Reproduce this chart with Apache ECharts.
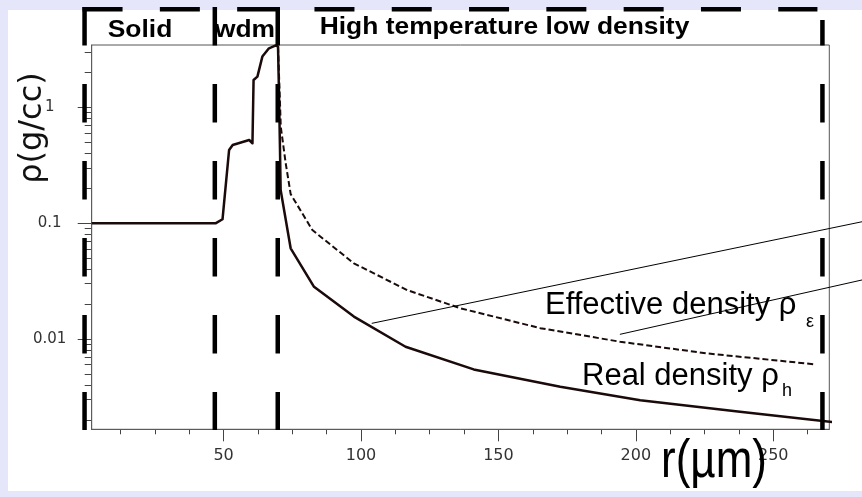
<!DOCTYPE html>
<html><head><meta charset="utf-8">
<script src="https://cdn.jsdelivr.net/npm/echarts@6/dist/echarts.min.js"></script>
<style>html,body{margin:0;padding:0;background:#e6e6fa}#c{width:862px;height:497px}</style>
</head><body><div id="c"></div>
<script>
// ---- data (r in µm, density in g/cc) ----
const solidR   = [2, 47.2, 49.6, 52.0, 53.3, 59.3, 60.5, 60.9, 62.3, 64.1, 66.5, 69.0, 69.8, 70.2, 70.5, 70.75, 74.4, 82.9, 97.4, 116.2, 141.0, 172.5, 201.6, 237.9, 275.4];
const solidRho = [0.1, 0.1, 0.108, 0.428, 0.472, 0.522, 0.489, 1.72, 1.84, 2.74, 3.23, 3.42, 3.34, 1.16, 0.457, 0.193, 0.0606, 0.0282, 0.0156, 0.00857, 0.00546, 0.00386, 0.00296, 0.00235, 0.00187];
const effR     = [69.8, 70.6, 70.8, 72.6, 74.4, 82.3, 97.4, 116.8, 136.2, 165.2, 194.3, 225.8, 265.1];
const effRho   = [3.34, 0.947, 0.68, 0.328, 0.178, 0.0871, 0.045, 0.0264, 0.0184, 0.0124, 0.00946, 0.00751, 0.00604];

const xMajorTicks = [50, 100, 150, 200, 250];
const xMinorTicks = [12.5, 25, 37.5, 62.5, 75, 87.5, 112.5, 125, 137.5, 162.5, 175, 187.5, 212.5, 225, 237.5, 262.5];
const yMajorTicks = [0.01, 0.1, 1];
const yMinorTicks = [0.002, 0.003, 0.004, 0.005, 0.006, 0.007, 0.008, 0.009,
                     0.02, 0.03, 0.04, 0.05, 0.06, 0.07, 0.08, 0.09,
                     0.2, 0.3, 0.4, 0.5, 0.6, 0.7, 0.8, 0.9, 2, 3];

const regionBounds = [-0.6, 46.8, 69.7, 267.9];   // r of the dashed region boundaries
const regionNames  = ['Solid', 'wdm', 'High temperature low density'];
const effLabel  = ['Effective density ρ', 'ε'];
const realLabel = ['Real density ρ', 'h'];
// leader lines: [start r, start rho, end r, end rho]
const leader1 = [103.9, 0.01364, 282.3, 0.1028];
const leader2 = [194.2, 0.01096, 282.3, 0.0323];

const X_MIN = 2, X_MAX = 270.4, Y_MIN = 0.00166, Y_MAX = 3.45;
const axisColor = '#444';
const chart = echarts.init(document.getElementById('c'), null, {renderer: 'canvas'});

const option = {
  backgroundColor: '#e6e6fa',
  animation: false,
  grid: {left: 91.7, right: 32.7, top: 45, bottom: 67.7, show: true, backgroundColor: '#fff', borderColor: '#555', borderWidth: 1, z: 1},
  xAxis: [
    {type: 'value', min: X_MIN, max: X_MAX, splitLine: {show: false},
     axisLine: {show: true, lineStyle: {color: axisColor, width: 1}},
     axisTick: {show: true, customValues: xMajorTicks, length: 12, lineStyle: {color: axisColor}},
     axisLabel: {customValues: xMajorTicks, margin: 19, fontFamily: 'DejaVu Sans', fontSize: 16, color: '#333'}},
    {type: 'value', min: X_MIN, max: X_MAX, position: 'bottom', splitLine: {show: false},
     axisLine: {show: false},
     axisTick: {show: true, customValues: xMinorTicks, length: 5, lineStyle: {color: axisColor}},
     axisLabel: {show: false}}
  ],
  yAxis: [
    {type: 'log', logBase: 10, min: Y_MIN, max: Y_MAX, splitLine: {show: false}, minorTick: {show: false},
     axisLine: {show: true, lineStyle: {color: axisColor, width: 1}},
     axisTick: {show: true, customValues: yMajorTicks, length: 14, lineStyle: {color: axisColor}},
     axisLabel: {customValues: yMajorTicks, margin: 42, align: 'center', fontFamily: 'DejaVu Sans', fontSize: 15, color: '#333',
                 formatter: v => String(parseFloat(Number(v).toPrecision(6)))}},
    {type: 'log', logBase: 10, min: Y_MIN, max: Y_MAX, position: 'left', splitLine: {show: false}, minorTick: {show: false},
     axisLine: {show: false},
     axisTick: {show: true, customValues: yMinorTicks, length: 7, lineStyle: {color: axisColor}},
     axisLabel: {show: false}}
  ],
  series: [
    {type: 'line', xAxisIndex: 0, yAxisIndex: 0, data: solidR.map((r, i) => [r, solidRho[i]]),
     showSymbol: false, symbol: 'none', clip: false, z: 4,
     lineStyle: {color: '#1a0a0a', width: 2.5, join: 'round'}},
    {type: 'line', xAxisIndex: 0, yAxisIndex: 0, data: effR.map((r, i) => [r, effRho[i]]),
     showSymbol: false, symbol: 'none', clip: false, z: 3,
     lineStyle: {color: '#1a0a0a', width: 2, type: [6, 3]}}
  ]
};
chart.setOption(option);

function px(r, rho) { return chart.convertToPixel({xAxisIndex: 0, yAxisIndex: 0}, [r, rho]); }

const g = [];
g.push({type: 'rect', z: -100, shape: {x: 8, y: 10, width: 854, height: 481}, style: {fill: '#fff'}, silent: true});

// dashed region boundary box
const TOP = 7, BOT = 430, HY = 9.3;
const bx = regionBounds.map(r => px(r, 1)[0]);
bx.forEach((x, i) => {
  const last = i === bx.length - 1;
  g.push({type: 'line', z: 100, shape: {x1: x, y1: last ? 20 : TOP, x2: x, y2: BOT},
          style: {stroke: '#000', lineWidth: 4.5, lineDash: [38.5, 38.5], lineDashOffset: last ? 13 : 0}});
});
g.push({type: 'line', z: 100, shape: {x1: bx[0] - 2, y1: HY, x2: bx[3] - 5, y2: HY},
        style: {stroke: '#000', lineWidth: 4.5, lineDash: [40, 37.3]}});

// region names
const bold = 'bold 24px "Liberation Sans", Arial, sans-serif';
g.push({type: 'text', z: 101, x: 140, y: 30.5, scaleX: 1.1, style: {text: regionNames[0], font: bold, fill: '#000', textAlign: 'center', textVerticalAlign: 'middle'}});
g.push({type: 'text', z: 101, x: 245, y: 30.5, scaleX: 1.1, style: {text: regionNames[1], font: bold, fill: '#000', textAlign: 'center', textVerticalAlign: 'middle'}});
g.push({type: 'text', z: 101, x: 504.5, y: 27, scaleX: 1.1, style: {text: regionNames[2], font: bold, fill: '#000', textAlign: 'center', textVerticalAlign: 'middle'}});

// leader lines
[leader1, leader2].forEach(L => {
  const a = px(L[0], L[1]), b = px(L[2], L[3]);
  g.push({type: 'line', z: 50, shape: {x1: a[0], y1: a[1], x2: b[0], y2: b[1]}, style: {stroke: '#000', lineWidth: 1}});
});

// curve labels
const reg = '31px "Liberation Sans", Arial, sans-serif';
const sub = '18px "Liberation Sans", Arial, sans-serif';
g.push({type: 'text', z: 60, x: 545, y: 305, style: {text: effLabel[0], font: reg, fill: '#000', textAlign: 'left', textVerticalAlign: 'middle'}});
g.push({type: 'text', z: 60, x: 806, y: 322, style: {text: effLabel[1], font: sub, fill: '#000', textAlign: 'left', textVerticalAlign: 'middle'}});
g.push({type: 'text', z: 60, x: 582, y: 376, style: {text: realLabel[0], font: reg, fill: '#000', textAlign: 'left', textVerticalAlign: 'middle'}});
g.push({type: 'text', z: 60, x: 782, y: 391, style: {text: realLabel[1], font: sub, fill: '#000', textAlign: 'left', textVerticalAlign: 'middle'}});

// axis titles
g.push({type: 'text', z: 60, x: 33, y: 128, rotation: Math.PI / 2, style: {text: 'ρ(g/cc)', font: '32px "DejaVu Sans", sans-serif', fill: '#111', textAlign: 'center', textVerticalAlign: 'middle'}});
g.push({type: 'text', z: 60, x: 714, y: 462, scaleY: 1.2, style: {text: 'r(µm)', font: '44px "Liberation Sans", Arial, sans-serif', fill: '#000', textAlign: 'center', textVerticalAlign: 'middle'}});

chart.setOption({graphic: {elements: g}});
</script>
</body></html>
